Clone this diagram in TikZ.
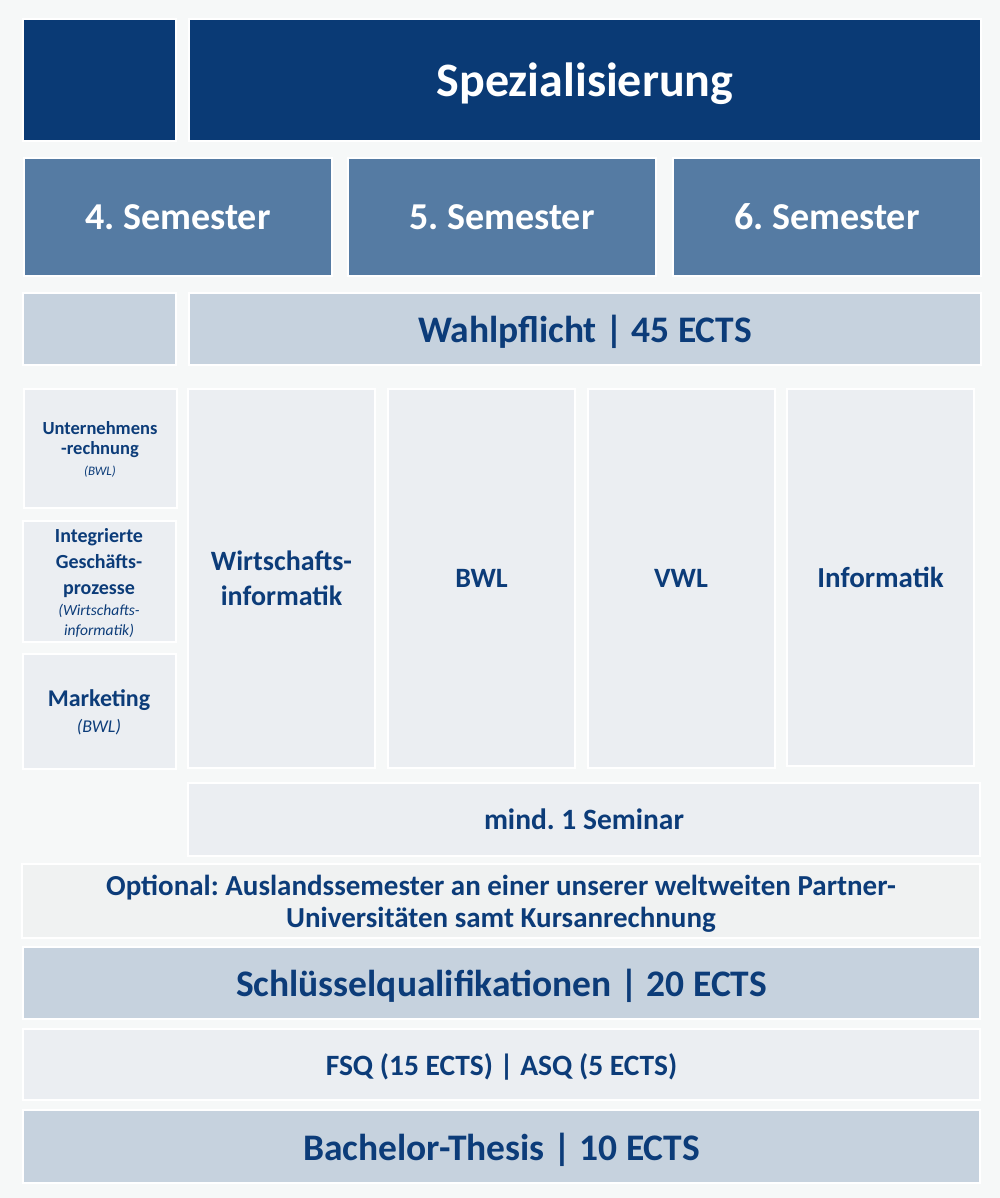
\documentclass[tikz,border=0pt]{standalone}
\usepackage{fontspec}
\setmainfont{Carlito}
\frenchspacing

\definecolor{navy}{HTML}{0A3A75}
\definecolor{semblue}{HTML}{557BA3}
\definecolor{greyblue}{HTML}{C6D2DE}
\definecolor{paleblue}{HTML}{EBEEF2}
\definecolor{palegrey}{HTML}{F0F2F2}
\definecolor{bgcol}{HTML}{F6F8F8}
\definecolor{txtblue}{HTML}{0C3C79}

\newcommand{\fsz}[2]{\fontsize{#1}{#2}\selectfont}
\newcommand{\subj}{\mdseries\itshape}

\tikzset{
    box/.style={rectangle, draw=white, line width=2pt, inner sep=0pt, text depth=0pt,
        align=center, text=txtblue, font=\bfseries},
    wide/.style={box, minimum width=792pt},
    full/.style={box, minimum width=957pt},
    field/.style={box, fill=paleblue, minimum width=187pt, minimum height=379pt, font=\bfseries\fsz{28}{35}},
    side/.style={box, fill=paleblue, minimum width=153pt},
    semester/.style={box, fill=semblue, text=white, minimum width=308pt, minimum height=118pt, font=\bfseries\fsz{38}{44}}
}

\begin{document}
\begin{tikzpicture}[x=1pt, y=-1pt]

    \fill[bgcol] (0,0) rectangle (1000,1198);
    \useasboundingbox (0,0) rectangle (1000,1198);

    % top row
    \node[box, fill=navy, minimum width=153pt, minimum height=122pt] (corner) at (99.5,80) {};
    \node[wide, fill=navy, minimum height=122pt, text=white, font=\bfseries\fsz{48}{54}] (spez) at (585,80) {Spezialisierung};

    % semesters
    \node[semester] (sem4) at (178,217) {4. Semester};
    \node[semester] (sem5) at (502,217) {5. Semester};
    \node[semester] (sem6) at (827,217) {6. Semester};

    % Wahlpflicht
    \node[box, fill=greyblue, minimum width=153pt, minimum height=72pt] (wpblank) at (99.5,329) {};
    \node[wide, fill=greyblue, minimum height=72pt, font=\bfseries\fsz{37.5}{44}] (wahl) at (585,329) {Wahlpflicht | 45 ECTS};

    % left column
    \node[side, minimum height=119pt, font=\bfseries\fsz{18.5}{20.5}] (unt) at (100,448.5)
        {Unternehmens\\-rechnung\\\subj\fsz{13}{18}(BWL)};
    \node[side, minimum height=121pt, font=\bfseries\fsz{20}{26}] (igp) at (99,581.5)
        {Integrierte\\Geschäfts-\\prozesse\\[-5pt]\subj\fsz{15.5}{19}(Wirtschafts-\\[-6pt]\subj\fsz{15.5}{19}informatik)};
    \node[side, minimum height=115pt, font=\bfseries\fsz{24}{26}] (mkt) at (99,711.5)
        {Marketing\\\subj\fsz{18}{22}(BWL)};

    % fields
    \node[field] (wi) at (281.5,578.5) {Wirtschafts-\\informatik};
    \node[field] (bwl) at (481.5,578.5) {BWL};
    \node[field] (vwl) at (681,578.5) {VWL};
    \node[field, minimum height=377pt, font=\bfseries\fsz{29}{35}] (inf) at (880.5,577.5) {Informatik};

    % seminar
    \node[wide, fill=paleblue, minimum height=73pt, font=\bfseries\fsz{29.5}{34}] (seminar) at (584,819.5) {mind. 1 Seminar};

    % bottom rows
    \node[full, minimum width=958pt, fill=palegrey, minimum height=74pt, font=\bfseries\fsz{29}{32}] (opt) at (501,901)
        {Optional: Auslandssemester an einer unserer weltweiten Partner-\\Universitäten samt Kursanrechnung};
    \node[full, fill=greyblue, minimum height=72pt, font=\bfseries\fsz{37.5}{44}] (sq) at (501.5,983) {Schlüsselqualifikationen | 20 ECTS};
    \node[full, fill=paleblue, minimum height=71pt, font=\bfseries\fsz{29.5}{34}] (fsq) at (501.5,1064.5) {FSQ (15 ECTS) | ASQ (5 ECTS)};
    \node[full, fill=greyblue, minimum height=73pt, font=\bfseries\fsz{37.5}{44}] (thesis) at (501.5,1146.5) {Bachelor-Thesis | 10 ECTS};

\end{tikzpicture}
\end{document}
